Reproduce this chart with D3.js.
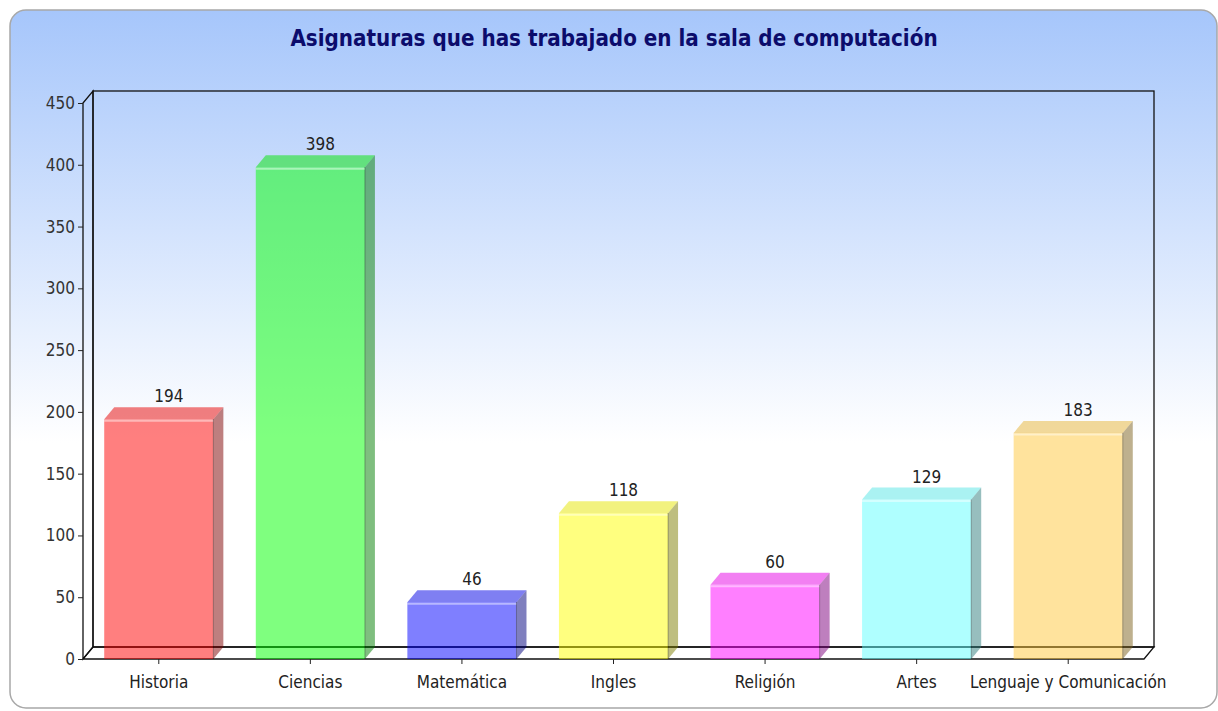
<!DOCTYPE html>
<html>
<head>
<meta charset="utf-8">
<script src="https://cdn.jsdelivr.net/npm/d3@7"></script>
<style>
  body { margin: 0; background: #fff; }
  svg text { font-family: "Liberation Sans Narrow", "DejaVu Sans Condensed", "Liberation Sans", sans-serif; font-stretch: condensed; }
</style>
</head>
<body>
<svg width="1218" height="711"></svg>
<script>
// data
var categories = ["Historia", "Ciencias", "Matemática", "Ingles", "Religión", "Artes", "Lenguaje y Comunicación"];
var values = [194, 398, 46, 118, 60, 129, 183];
var barColors = ["#ff0000", "#00ff00", "#0000ff", "#ffff00", "#ff00ff", "#60ffff", "#ffc83c"];
var yTicks = [0, 50, 100, 150, 200, 250, 300, 350, 400, 450];
var title = "Asignaturas que has trabajado en la sala de computación";

var svg = d3.select("svg");
var plot = { left: 83, right: 1144, top: 103, bottom: 659 };
var depth = { dx: 10, dy: -12 };

// background gradient
var defs = svg.append("defs");
var grad = defs.append("linearGradient").attr("id", "bg").attr("x1", 0).attr("y1", 0).attr("x2", 0).attr("y2", 1);
grad.append("stop").attr("offset", "0%").attr("stop-color", "#a6c6fb");
grad.append("stop").attr("offset", "62%").attr("stop-color", "#ffffff");
grad.append("stop").attr("offset", "100%").attr("stop-color", "#ffffff");

svg.append("rect")
    .attr("x", 10).attr("y", 10).attr("width", 1207).attr("height", 698)
    .attr("rx", 16).attr("ry", 16)
    .style("fill", "url(#bg)")
    .style("stroke", "#a8a8a8").style("stroke-width", 1.5);

svg.append("text")
    .attr("x", 614).attr("y", 46)
    .attr("text-anchor", "middle")
    .style("font-size", "22.2px").style("font-weight", "bold")
    .style("fill", "#0c0c6c")
    .text(title);

// scales
var x = d3.scaleBand().domain(categories).range([plot.left, plot.right]).paddingInner(0.28).paddingOuter(0.14);
var y = d3.scaleLinear().domain([0, 450]).range([plot.bottom, plot.top]);

// 3d walls
var frame = svg.append("g").style("fill", "none").style("stroke", "#111").style("stroke-width", 1.3);
frame.append("rect")
    .attr("x", plot.left + depth.dx).attr("y", y(450) + depth.dy)
    .attr("width", plot.right - plot.left).attr("height", y(0) - y(450));
frame.append("polygon").attr("points", [
    [plot.left, y(0)], [plot.right, y(0)],
    [plot.right + depth.dx, y(0) + depth.dy], [plot.left + depth.dx, y(0) + depth.dy]
].join(" "));
frame.append("polygon").attr("points", [
    [plot.left, y(0)], [plot.left, y(450)],
    [plot.left + depth.dx, y(450) + depth.dy], [plot.left + depth.dx, y(0) + depth.dy]
].join(" "));

// bars
var bars = svg.append("g").selectAll("g").data(values).enter().append("g");

bars.append("rect")
    .attr("x", function (d, i) { return x(categories[i]); })
    .attr("y", function (d) { return y(d); })
    .attr("width", x.bandwidth())
    .attr("height", function (d) { return y(0) - y(d); })
    .style("fill", function (d, i) { return barColors[i]; })
    .style("fill-opacity", 0.5);

// top face
bars.append("polygon")
    .attr("points", function (d, i) {
        var x0 = x(categories[i]), x1 = x0 + x.bandwidth(), yt = y(d);
        return [[x0, yt], [x1, yt], [x1 + depth.dx, yt + depth.dy], [x0 + depth.dx, yt + depth.dy]].join(" ");
    })
    .style("fill", function (d, i) { return d3.color(barColors[i]).darker(0.3); })
    .style("fill-opacity", 0.5);

// side face
bars.append("polygon")
    .attr("points", function (d, i) {
        var x1 = x(categories[i]) + x.bandwidth(), yt = y(d);
        return [[x1, yt], [x1 + depth.dx, yt + depth.dy], [x1 + depth.dx, y(0) + depth.dy], [x1, y(0)]].join(" ");
    })
    .style("fill", function (d, i) { return d3.color(barColors[i]).darker(2); })
    .style("fill-opacity", 0.5);

// highlight along the top edge
bars.append("line")
    .attr("x1", function (d, i) { return x(categories[i]); })
    .attr("x2", function (d, i) { return x(categories[i]) + x.bandwidth(); })
    .attr("y1", function (d) { return y(d) + 1.5; })
    .attr("y2", function (d) { return y(d) + 1.5; })
    .style("stroke", "#fff").style("stroke-opacity", 0.45).style("stroke-width", 2);

// dark front-right edge
bars.append("line")
    .attr("x1", function (d, i) { return x(categories[i]) + x.bandwidth(); })
    .attr("x2", function (d, i) { return x(categories[i]) + x.bandwidth(); })
    .attr("y1", function (d) { return y(d); })
    .attr("y2", y(0))
    .style("stroke", "#000").style("stroke-opacity", 0.3).style("stroke-width", 1);

// value labels
bars.append("text")
    .attr("x", function (d, i) { return x(categories[i]) + x.bandwidth() / 2 + depth.dx; })
    .attr("y", function (d) { return y(d) + depth.dy - 5; })
    .attr("text-anchor", "middle")
    .style("font-size", "17px").style("fill", "#222")
    .text(function (d) { return d; });

// y axis
var yAxis = svg.append("g").attr("transform", "translate(" + plot.left + ",0)")
    .call(d3.axisLeft(y).tickValues(yTicks).tickSize(5).tickPadding(3));
yAxis.select(".domain").remove();
yAxis.selectAll("line").style("stroke", "#222");
yAxis.selectAll("text").style("font-size", "17px").style("fill", "#333").style("font-family", null);

// x axis
var xAxis = svg.append("g").attr("transform", "translate(0," + plot.bottom + ")")
    .call(d3.axisBottom(x).tickSize(5).tickPadding(12));
xAxis.select(".domain").remove();
xAxis.selectAll("line").style("stroke", "#222");
xAxis.selectAll("text").style("font-size", "17px").style("fill", "#222").style("font-family", null);
</script>
</body>
</html>
